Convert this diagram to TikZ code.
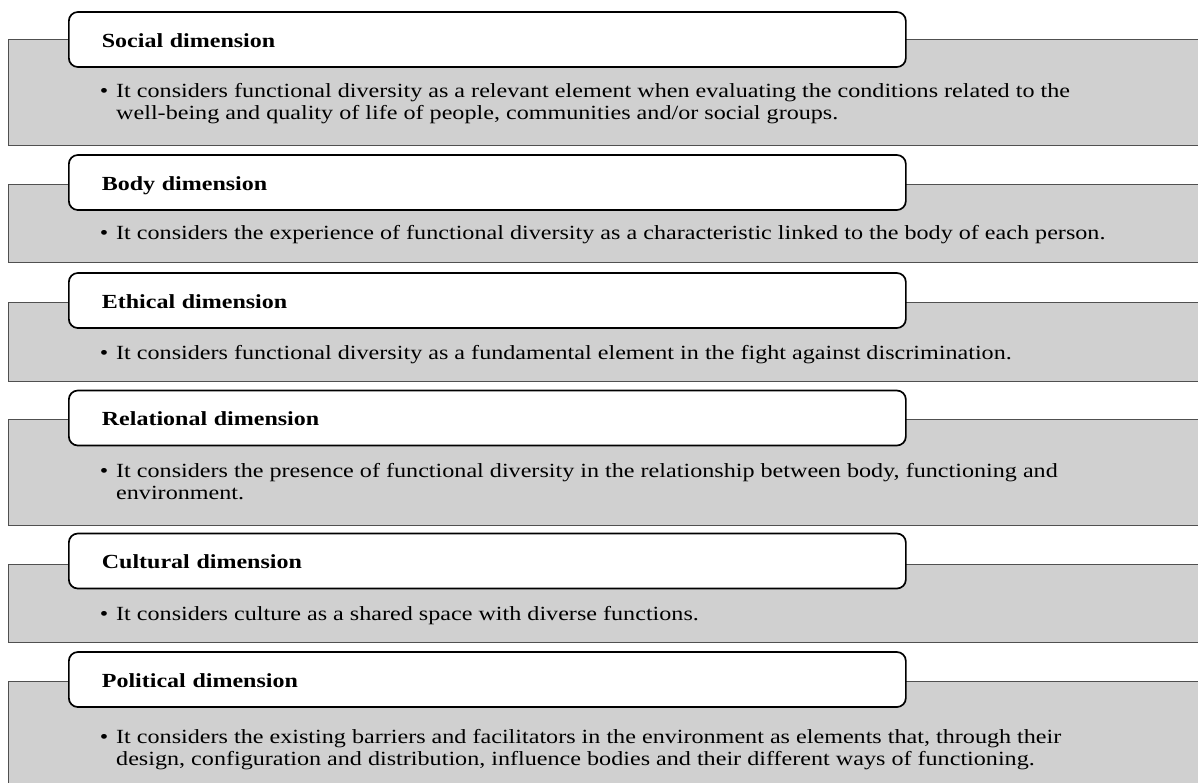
\documentclass[tikz,border=0pt]{standalone}
\usepackage{fontspec}
\setmainfont{Liberation Serif}[FakeStretch=1.2]
\usetikzlibrary{positioning}
\definecolor{panelgray}{RGB}{208,208,208}
\definecolor{panelline}{RGB}{80,80,80}

\begin{document}
\begin{tikzpicture}[x=1pt,y=-1pt,
    panel/.style={rectangle, draw=panelline, fill=panelgray, line width=1.4pt, anchor=north west, minimum width=1220pt, inner sep=0pt},
    heading/.style={rectangle, rounded corners=9pt, draw=black, fill=white, line width=1.7pt, anchor=west,
        minimum width=837pt, minimum height=55pt, text width=771pt, inner xsep=33pt, inner ysep=0pt,
        align=left, text height=15pt, text depth=0pt, font=\fontsize{20}{22}\selectfont\bfseries},
    itemtext/.style={anchor=base west, align=left, inner sep=0pt, font=\fontsize{20.1}{22}\selectfont}]
            \useasboundingbox (0,0) rectangle (1198,782);
            % Draw the grey panels behind the headings
            \foreach \ytop/\ybot [count=\i] in {39/145, 184/262, 302/381, 419/525, 564/642, 681/800} {
                    \node[panel, minimum height=\ybot-\ytop] (panel-\i) at (8,\ytop) {};
                }

            % Headings
            \node[heading] (Social) at (68,39.5) {Social dimension};
            \node[heading] (Body) at (68,182.5) {Body dimension};
            \node[heading] (Ethical) at (68,300.5) {Ethical dimension};
            \node[heading] (Relational) at (68,418) {Relational dimension};
            \node[heading] (Cultural) at (68,561) {Cultural dimension};
            \node[heading] (Political) at (68,679.5) {Political dimension};

            % Add text under each heading (base = last line)
            \node[itemtext] (Social-text) at (116,119) {\llap{\textbullet\hspace{8pt}}It considers functional diversity as a relevant element when evaluating the conditions related to the\\
                well-being and quality of life of people, communities and/or social groups.};
            \node[itemtext] (Body-text) at (116,239) {\llap{\textbullet\hspace{8pt}}It considers the experience of functional diversity as a characteristic linked to the body of each person.};
            \node[itemtext] (Ethical-text) at (116,359) {\llap{\textbullet\hspace{8pt}}It considers functional diversity as a fundamental element in the fight against discrimination.};
            \node[itemtext] (Relational-text) at (116,499) {\llap{\textbullet\hspace{8pt}}It considers the presence of functional diversity in the relationship between body, functioning and\\
                environment.};
            \node[itemtext] (Cultural-text) at (116,620) {\llap{\textbullet\hspace{8pt}}It considers culture as a shared space with diverse functions.};
            \node[itemtext] (Political-text) at (116,765) {\llap{\textbullet\hspace{8pt}}It considers the existing barriers and facilitators in the environment as elements that, through their\\
                design, configuration and distribution, influence bodies and their different ways of functioning.};
        \end{tikzpicture}
\end{document}
